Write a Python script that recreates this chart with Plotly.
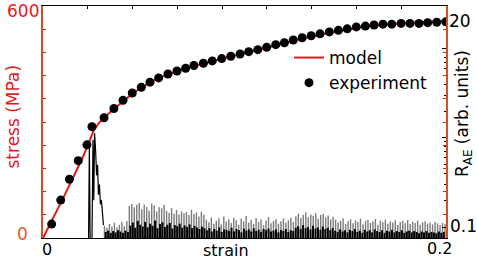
import numpy as np
import plotly.graph_objects as go

# ---------------- data ----------------
exp_strain = [0.0043, 0.0088, 0.0131, 0.0175, 0.0218, 0.0243, 0.0303, 0.0352, 0.0397, 0.0443,
              0.0488, 0.0531, 0.0574, 0.0620, 0.0665, 0.0708, 0.0749, 0.0796, 0.0840, 0.0887,
              0.0932, 0.0978, 0.1021, 0.1066, 0.1110, 0.1155, 0.1198, 0.1242, 0.1286, 0.1331,
              0.1375, 0.1421, 0.1466, 0.1510, 0.1555, 0.1600, 0.1643, 0.1687, 0.1731, 0.1777,
              0.1821, 0.1866, 0.1909, 0.1954, 0.1999]
exp_stress = [36, 98, 152, 200, 241, 288, 311, 335, 356, 375,
              390, 403, 414, 424, 432, 439, 446, 452, 458, 464,
              470, 476, 482, 487, 493, 500, 505, 512, 518, 523,
              528, 533, 537, 541, 546, 548, 551, 553, 553, 555,
              555, 555, 557, 558, 559]

model_strain = [0, 0.005, 0.01, 0.015, 0.02, 0.023, 0.025, 0.0275, 0.03, 0.035, 0.04, 0.045,
                0.05, 0.055, 0.06, 0.065, 0.07, 0.08, 0.09, 0.1, 0.11, 0.12, 0.13, 0.14,
                0.15, 0.16, 0.17, 0.18, 0.19, 0.2]
model_stress = [0, 50, 103, 157, 212, 250, 276, 296, 310, 333, 355, 376,
                392, 407, 419, 429, 437, 452, 465, 478, 491, 504, 517, 528,
                538, 546, 552, 556, 559, 562]

# AE burst around yield (strain, R_AE)
burst_strain = [0.0208, 0.0226, 0.0230, 0.0234, 0.0243, 0.0248, 0.0252, 0.0256, 0.0261, 0.0266,
                0.0271, 0.0275, 0.0280, 0.0285, 0.0290, 0.0295, 0.0300]
burst_rae = [0.07, 0.07, 0.79, 0.07, 0.07, 0.95, 0.20, 1.13, 0.73, 0.38,
             0.50, 0.23, 0.30, 0.18, 0.20, 0.126, 0.105]

# AE noise after the burst (sampled from strain 0.0305 to 0.1995)
ae_noise_start, ae_noise_end = 0.0305, 0.1995
ae_gray = [0.103, 0.098, 0.108, 0.101, 0.112, 0.099, 0.106, 0.114, 0.102, 0.117,
           0.172, 0.181, 0.165, 0.176, 0.186, 0.158, 0.179, 0.169, 0.152, 0.183,
           0.175, 0.149, 0.167, 0.162, 0.178, 0.152, 0.144, 0.163, 0.141, 0.155,
           0.138, 0.15, 0.143, 0.147, 0.136, 0.156, 0.14, 0.146, 0.131, 0.148, 0.137,
           0.121, 0.113, 0.128, 0.109, 0.118, 0.125, 0.107, 0.131, 0.115, 0.122,
           0.111, 0.127, 0.119, 0.106, 0.124, 0.116, 0.133, 0.112, 0.12, 0.108,
           0.126, 0.114, 0.121, 0.105, 0.118, 0.129, 0.11, 0.117, 0.123, 0.109,
           0.116, 0.125, 0.112, 0.119, 0.127, 0.114,
           0.132, 0.141, 0.126, 0.137, 0.146, 0.129, 0.138, 0.134, 0.143, 0.124,
           0.136, 0.14, 0.128, 0.135, 0.122, 0.13,
           0.121, 0.112, 0.118, 0.125, 0.108, 0.116, 0.122, 0.11, 0.119, 0.114,
           0.124, 0.107, 0.117, 0.12, 0.111, 0.115, 0.123, 0.106, 0.118, 0.113,
           0.121, 0.109, 0.116, 0.112, 0.119, 0.105, 0.114, 0.117, 0.11, 0.12,
           0.108, 0.115, 0.111, 0.118, 0.106, 0.113, 0.116, 0.109, 0.112, 0.107,
           0.114, 0.11, 0.105, 0.111, 0.108]
ae_black = [0.088, 0.091, 0.086, 0.09, 0.087, 0.092, 0.089, 0.086, 0.091, 0.088,
            0.104, 0.112, 0.098, 0.117, 0.106, 0.101, 0.114, 0.099, 0.109, 0.103,
            0.118, 0.097, 0.108, 0.113, 0.1, 0.106, 0.111, 0.096, 0.105, 0.102,
            0.109, 0.098, 0.104, 0.1, 0.107, 0.097, 0.103, 0.099, 0.095, 0.101, 0.097,
            0.092, 0.097, 0.089, 0.095, 0.091, 0.099, 0.088, 0.094, 0.093, 0.09,
            0.098, 0.089, 0.095, 0.092, 0.087, 0.096, 0.091, 0.094, 0.089, 0.097,
            0.09, 0.093, 0.088, 0.095, 0.092, 0.096, 0.089, 0.091, 0.094, 0.087,
            0.093, 0.09, 0.095, 0.088, 0.092, 0.09,
            0.098, 0.102, 0.095, 0.105, 0.097, 0.1, 0.094, 0.103, 0.096, 0.099,
            0.093, 0.101, 0.095, 0.098, 0.092, 0.097,
            0.091, 0.088, 0.094, 0.089, 0.092, 0.087, 0.093, 0.09, 0.095, 0.088,
            0.091, 0.086, 0.093, 0.089, 0.092, 0.087, 0.094, 0.09, 0.088, 0.092,
            0.086, 0.091, 0.089, 0.093, 0.087, 0.09, 0.088, 0.092, 0.086, 0.089,
            0.091, 0.087, 0.09, 0.088, 0.085, 0.089, 0.087, 0.09, 0.086, 0.088,
            0.087, 0.085, 0.089, 0.086, 0.088]
ae_floor = 0.07

x_range = [0, 0.2]
stress_range = [0, 600]
rae_log_range = [-1.1235, 1.4806]

# ---------------- helpers ----------------
def sticks(xs, ys, base):
    X, Y = [], []
    for x, y in zip(xs, ys):
        X += [x, x, None]
        Y += [base, y, None]
    return X, Y

n = len(ae_gray)
gx = np.linspace(ae_noise_start, ae_noise_end, n)
step = gx[1] - gx[0]
bx = np.linspace(ae_noise_start + step / 2, ae_noise_end - step / 2, len(ae_black))

GX, GY = sticks(gx, ae_gray, ae_floor)
BX, BY = sticks(bx, ae_black, ae_floor)

FONT = "DejaVu Sans"
RED = "#e31a1c"

fig = go.Figure()

# AE signal (right log axis, primary y)
fig.add_trace(go.Scatter(x=GX, y=GY, mode="lines", line=dict(color="#7c7c7c", width=1.4),
                         showlegend=False, hoverinfo="skip", yaxis="y"))
fig.add_trace(go.Scatter(x=BX, y=BY, mode="lines", line=dict(color="black", width=2),
                         showlegend=False, hoverinfo="skip", yaxis="y"))
fig.add_trace(go.Scatter(x=burst_strain, y=burst_rae, mode="lines", line=dict(color="black", width=1.2),
                         showlegend=False, hoverinfo="skip", yaxis="y"))
# dummy for top axis ticks
fig.add_trace(go.Scatter(x=[None], y=[None], xaxis="x2", yaxis="y", showlegend=False, hoverinfo="skip"))

# stress (left axis, overlay)
fig.add_trace(go.Scatter(x=model_strain, y=model_stress, mode="lines", name="model",
                         line=dict(color=RED, width=2), yaxis="y2", legendgroup="a"))
fig.add_trace(go.Scatter(x=exp_strain, y=exp_stress, mode="markers", name="experiment",
                         marker=dict(color="black", size=9), yaxis="y2", legendgroup="b"))

W, H = 477, 259
L, R, T, B = 43, 31, 6, 21
pw, ph = W - L - R, H - T - B

def px(xp):
    return (xp - L) / pw

def py(yp):
    return (H - B - yp) / ph

fig.update_layout(
    width=W, height=H,
    margin=dict(l=L, r=R, t=T, b=B, pad=0),
    paper_bgcolor="white", plot_bgcolor="white",
    font=dict(family=FONT, size=17, color="black"),
    showlegend=True,
    legend=dict(x=px(289), y=py(40), xanchor="left", yanchor="top",
                bgcolor="rgba(0,0,0,0)", font=dict(family=FONT, size=17),
                itemwidth=30, tracegroupgap=7, traceorder="normal"),
    xaxis=dict(range=x_range, showline=True, linecolor="black", linewidth=1,
               ticks="", showticklabels=False, showgrid=False, zeroline=False),
    xaxis2=dict(range=[0, 9], overlaying="x", side="top", anchor="y",
                showline=True, linecolor="black", linewidth=1,
                ticks="inside", ticklen=3, tickcolor="black", dtick=1, tick0=0,
                showticklabels=False, showgrid=False, zeroline=False),
    yaxis=dict(type="log", range=rae_log_range, side="right",
               showline=True, linecolor="#6aa84f", linewidth=1.5,
               ticks="inside", ticklen=4, tickcolor="black", tickvals=[0.1, 1, 10],
               minor=dict(ticks="inside", ticklen=2, tickcolor="black",
                          tickvals=[0.2, 0.3, 0.4, 0.5, 0.6, 0.7, 0.8, 0.9,
                                    2, 3, 4, 5, 6, 7, 8, 9, 20]),
               showticklabels=False, showgrid=False, zeroline=False),
    yaxis2=dict(range=stress_range, overlaying="y", side="left",
                showline=True, linecolor="#d0502a", linewidth=1.5, mirror="ticks",
                ticks="inside", ticklen=3, tickcolor=RED, dtick=60, tick0=0,
                showticklabels=False, showgrid=False, zeroline=False),
)

ann = [
    dict(text="600", x=px(41), y=py(11), xanchor="right", yanchor="middle", font=dict(color=RED, size=17)),
    dict(text="0", x=px(22.5), y=py(233.5), xanchor="center", yanchor="middle", font=dict(color="#e8582a", size=17)),
    dict(text="0", x=px(47), y=py(249.5), xanchor="center", yanchor="middle", font=dict(size=16)),
    dict(text="0.2", x=px(439), y=py(249), xanchor="center", yanchor="middle", font=dict(size=16)),
    dict(text="strain", x=px(226), y=py(250), xanchor="center", yanchor="middle", font=dict(size=16)),
    dict(text="20", x=px(447), y=py(21), xanchor="left", yanchor="middle", font=dict(size=17)),
    dict(text="0.1", x=px(448), y=py(226), xanchor="left", yanchor="middle", font=dict(size=17)),
    dict(text="stress (MPa)", x=px(12), y=py(116.5), xanchor="center", yanchor="middle",
         textangle=-90, font=dict(color=RED, size=17)),
    dict(text="R<sub>AE</sub> (arb. units)", x=px(463), y=py(114), xanchor="center", yanchor="middle",
         textangle=-90, font=dict(size=17)),
]
for a in ann:
    a.update(xref="paper", yref="paper", showarrow=False)
fig.update_layout(annotations=ann)

fig.write_html("out.html", config={"displayModeBar": False},
               post_script="document.body.style.margin='0';document.body.style.overflow='hidden';")
